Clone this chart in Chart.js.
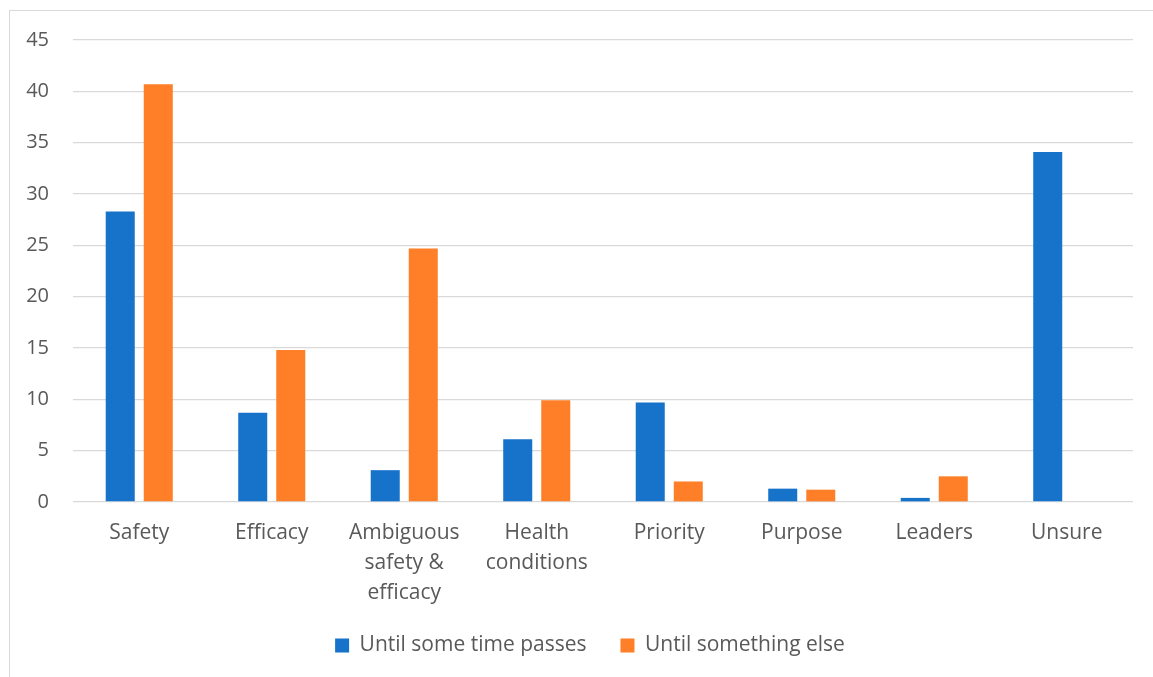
<!DOCTYPE html>
<html>
<head>
<meta charset="utf-8">
<script src="https://cdn.jsdelivr.net/npm/chart.js@4.4.1/dist/chart.umd.min.js"></script>
<style>
  html, body { margin: 0; padding: 0; background: #ffffff; }
  #wrap { position: relative; width: 1153px; height: 677px; overflow: hidden; }
  #frame { position: absolute; left: 9px; top: 10px; width: 1160px; height: 700px;
           border: 1.5px solid #d9d9d9; box-sizing: border-box; }
  #c { position: absolute; left: 0; top: 0; }
</style>
</head>
<body>
<div id="wrap">
  <div id="frame"></div>
  <canvas id="c" width="1153" height="677"></canvas>
</div>
<script>
// Reasons for waiting, by category
const categories = [
  'Safety',
  'Efficacy',
  ['Ambiguous', 'safety &', 'efficacy'],
  ['Health', 'conditions'],
  'Priority',
  'Purpose',
  'Leaders',
  'Unsure'
];
const untilTimePasses = [28.3, 8.7, 3.1, 6.1, 9.7, 1.3, 0.4, 34.1];
const untilSomethingElse = [40.7, 14.8, 24.7, 9.9, 2.0, 1.2, 2.5, 0];
const seriesNames = ['Until some time passes', 'Until something else'];
const yTicks = [0, 5, 10, 15, 20, 25, 30, 35, 40, 45];

const textColor = '#595959';
const gridColor = '#d9d9d9';
const fontFamily = "'Open Sans', 'Noto Sans', sans-serif";

// Centre the legend under the plot area, and let the category labels
// run down past the axis box so three-line labels are not cut off
const layoutTweaks = {
  id: 'layoutTweaks',
  afterLayout(chart) {
    const lg = chart.legend;
    if (lg) {
      const shift = (chart.chartArea.left + chart.chartArea.right) / 2 - (lg.left + lg.right) / 2 - 13;
      lg.left += shift;
      lg.right += shift;
    }
    const x = chart.scales.x;
    if (x) x.bottom = chart.height;
  }
};

new Chart(document.getElementById('c'), {
  type: 'bar',
  data: {
    labels: categories,
    datasets: [
      { label: seriesNames[0], data: untilTimePasses, backgroundColor: '#1772c9' },
      { label: seriesNames[1], data: untilSomethingElse, backgroundColor: '#fe7f27' }
    ]
  },
  plugins: [layoutTweaks],
  options: {
    responsive: false,
    animation: false,
    devicePixelRatio: 1,
    categoryPercentage: 0.574,
    barPercentage: 0.763,
    layout: { padding: { left: 0, right: 20, top: 40, bottom: 11 } },
    plugins: {
      tooltip: { enabled: false },
      legend: {
        position: 'bottom',
        labels: {
          color: textColor,
          font: { family: fontFamily, size: 21 },
          boxWidth: 14,
          boxHeight: 14,
          padding: 34,
          useBorderRadius: false
        }
      }
    },
    scales: {
      x: {
        grid: { display: false },
        border: { display: false },
        ticks: {
          color: textColor,
          font: { family: fontFamily, size: 21, lineHeight: 1.43 },
          maxRotation: 0,
          autoSkip: false,
          padding: 8
        },
        afterFit: s => { s.height = 99; }
      },
      y: {
        min: 0,
        max: 45,
        afterBuildTicks: s => { s.ticks = yTicks.map(v => ({ value: v })); },
        grid: { color: gridColor, lineWidth: 1.3, drawTicks: false },
        border: { display: false },
        ticks: {
          color: textColor,
          font: { family: fontFamily, size: 20 },
          padding: 24
        },
        afterFit: s => { s.width = 73; }
      }
    }
  }
});
</script>
</body>
</html>
